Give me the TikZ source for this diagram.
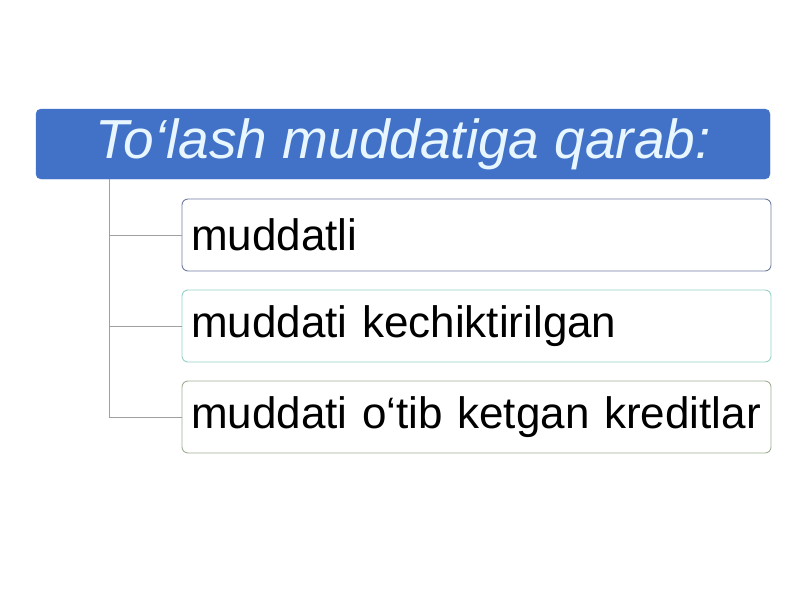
\documentclass[tikz,border=0pt]{standalone}
\usepackage{fontspec}
\setmainfont{Liberation Sans}
\definecolor{hdrblue}{RGB}{66,114,200}
\definecolor{hdrtext}{RGB}{232,246,255}
\definecolor{linegray}{RGB}{160,160,160}
\definecolor{bordA}{RGB}{110,125,160}
\definecolor{bordB}{RGB}{150,210,200}
\definecolor{bordC}{RGB}{160,175,150}
\begin{document}
\begin{tikzpicture}[x=1pt,y=-1pt,
  header/.style={fill=hdrblue, draw=hdrblue, rounded corners=5pt, minimum width=734pt, minimum height=70pt, inner sep=0pt, text=hdrtext, font=\fontsize{55}{60}\selectfont\itshape},
  item/.style={draw=#1, fill=white, rounded corners=6pt, minimum width=589pt, minimum height=72pt, inner xsep=9pt, inner ysep=0pt, text width=571pt, align=left, font=\fontsize{44}{50}\selectfont, line width=0.9pt},
  conn/.style={draw=linegray, line width=0.9pt}]
\useasboundingbox (0,0) rectangle (800,600);
\node[header] (h) at (403,144) {To‘lash muddatiga qarab:};
\node[item=bordA] (a) at (476.5,235) {muddatli};
\node[item=bordB] (b) at (476.5,326) {muddati kechiktirilgan};
\node[item=bordC] (c) at (476.5,417) {muddati o‘tib ketgan kreditlar};
\coordinate (top) at (109,179);
\draw[conn] (top) |- (c.west);
\draw[conn] (top |- a.west) -- (a.west);
\draw[conn] (top |- b.west) -- (b.west);
\end{tikzpicture}
\end{document}
